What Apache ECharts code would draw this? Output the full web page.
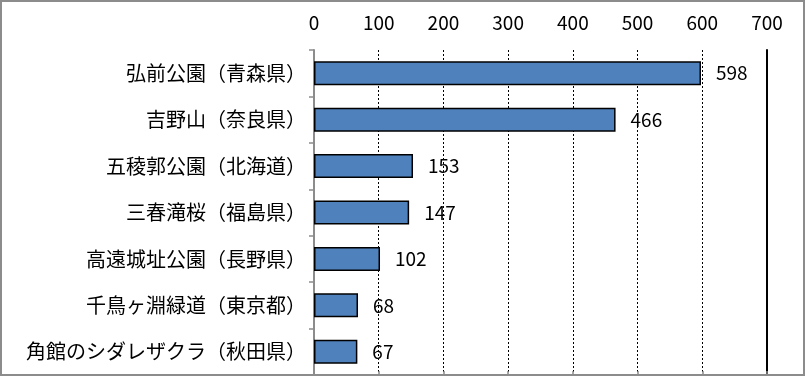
<!DOCTYPE html>
<html>
<head>
<meta charset="utf-8">
<script src="https://cdn.jsdelivr.net/npm/echarts@6/dist/echarts.min.js"></script>
<style>
  html, body { margin: 0; padding: 0; background: #fff; }
  #chart { width: 805px; height: 376px; }
</style>
</head>
<body>
<div id="chart"></div>
<script>
// 桜の名所（値は図から読み取り）
const categories = [
  '弘前公園（青森県）',
  '吉野山（奈良県）',
  '五稜郭公園（北海道）',
  '三春滝桜（福島県）',
  '高遠城址公園（長野県）',
  '千鳥ヶ淵緑道（東京都）',
  '角館のシダレザクラ（秋田県）'
]
const values = [598, 466, 153, 147, 102, 68, 67]
const axisMax = 700
const axisStep = 100

const font = '"Noto Sans CJK JP", "Noto Sans", sans-serif'

const chart = echarts.init(document.getElementById('chart'))
chart.setOption({
  animation: false,
  backgroundColor: '#fff',
  textStyle: { fontFamily: font },
  grid: { left: 314, right: 38, top: 50, bottom: 1, containLabel: false },
  xAxis: {
    type: 'value',
    position: 'top',
    min: 0,
    max: axisMax,
    interval: axisStep,
    axisLine: { show: true, lineStyle: { color: '#8c8c8c', width: 1.5 } },
    axisTick: { show: true, inside: false, length: 4, lineStyle: { color: '#8c8c8c', width: 1.5 } },
    axisLabel: { color: '#000', fontSize: 19, margin: 18, fontFamily: font },
    splitLine: { show: true, lineStyle: { color: '#000', width: 1, type: [2, 2] } }
  },
  yAxis: [
    {
      type: 'category',
      data: categories,
      inverse: true,
      axisLine: { show: true, lineStyle: { color: '#8c8c8c', width: 2 } },
      axisTick: { show: true, length: 5, alignWithLabel: false, lineStyle: { color: '#8c8c8c', width: 1.5 } },
      axisLabel: { color: '#000', fontSize: 20, margin: 8, fontFamily: font }
    },
    {
      type: 'value',
      position: 'right',
      axisLine: { show: true, onZero: false, lineStyle: { color: '#000', width: 2 } },
      axisTick: { show: false },
      axisLabel: { show: false },
      splitLine: { show: false }
    }
  ],
  series: [
    {
      type: 'bar',
      data: values,
      barWidth: 24,
      itemStyle: { color: '#4f81bd', borderColor: '#000', borderWidth: 1.5 },
      label: {
        show: true,
        position: 'right',
        distance: 15,
        color: '#000',
        fontSize: 19,
        fontFamily: font
      }
    }
  ],
  graphic: [
    {
      type: 'rect',
      shape: { x: 1, y: 1, width: 803, height: 374 },
      style: { fill: 'none', stroke: '#8c8c8c', lineWidth: 2 },
      z: 100
    }
  ]
})
</script>
</body>
</html>
